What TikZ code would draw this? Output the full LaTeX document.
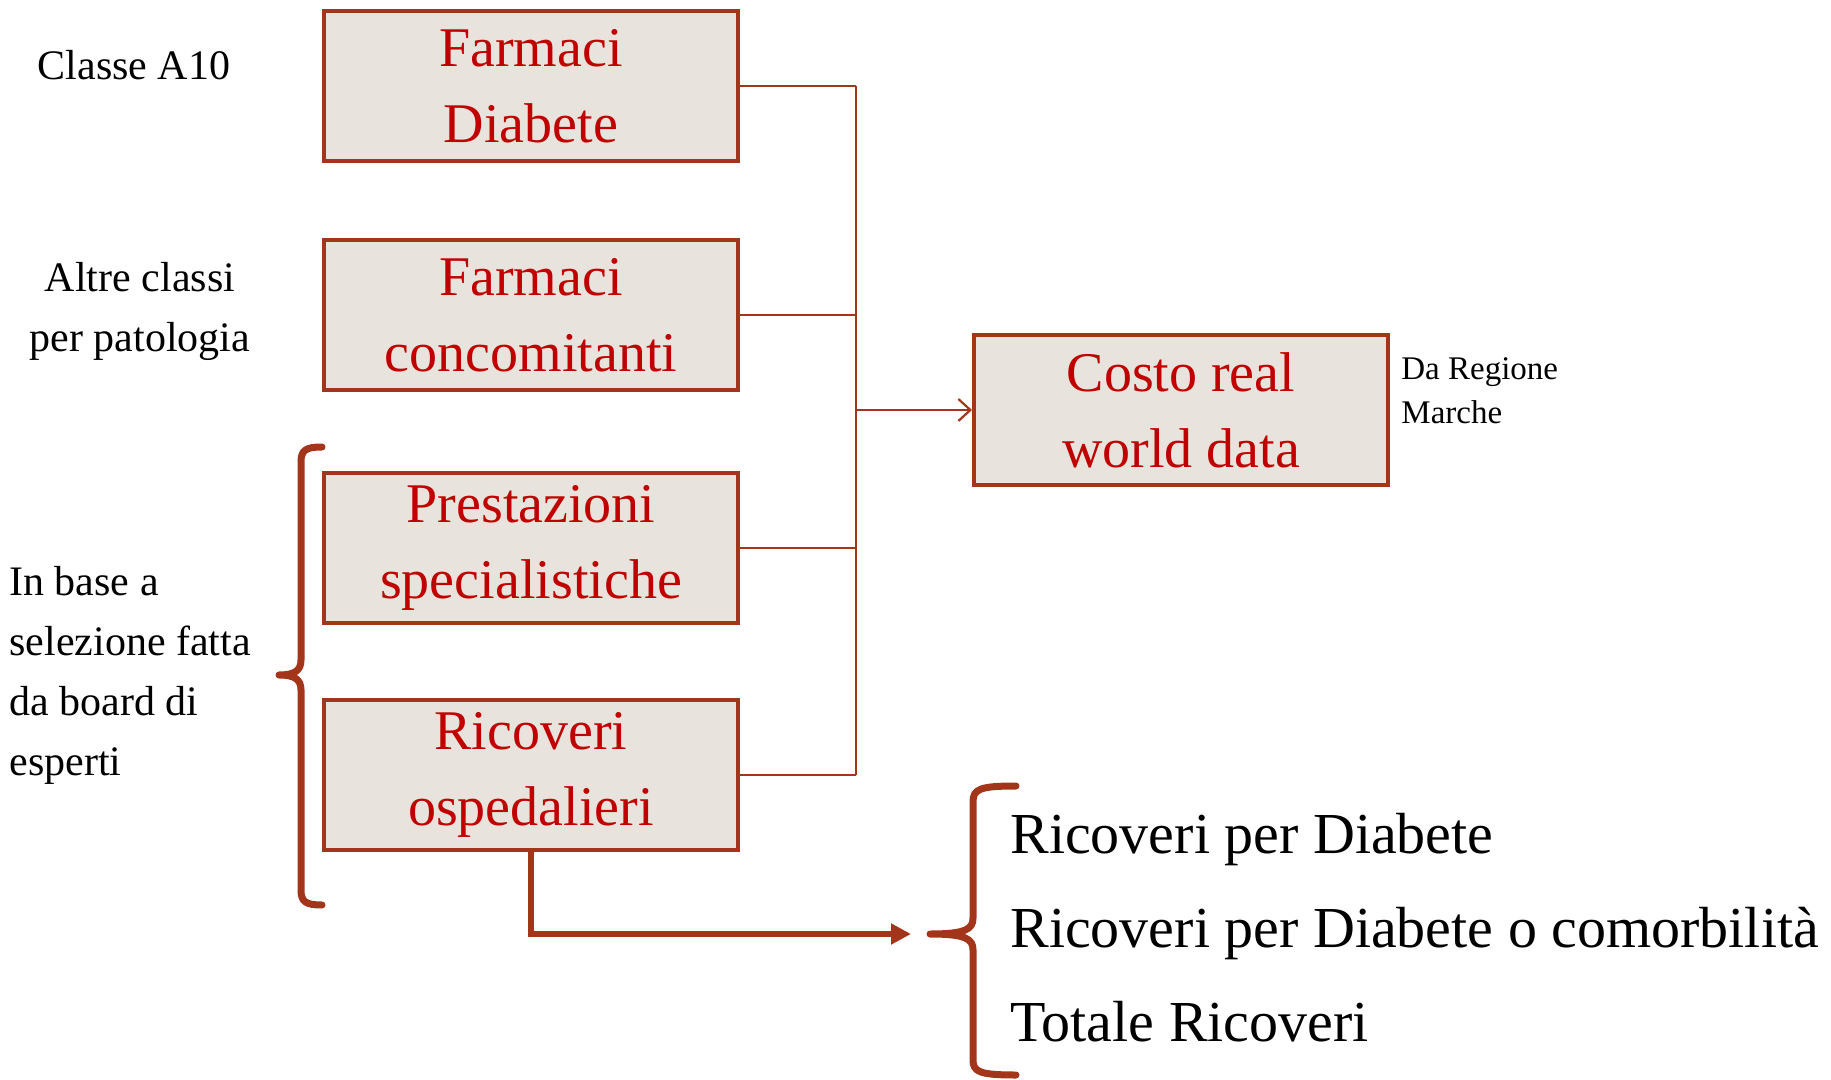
\documentclass[tikz,border=0pt]{standalone}
\usepackage{fontspec}
\setmainfont{Liberation Serif}
\usetikzlibrary{positioning,arrows.meta}
\definecolor{boxfill}{HTML}{E8E3DC}
\definecolor{rust}{HTML}{A3361A}
\definecolor{boxred}{HTML}{C00000}

\begin{document}
\begin{tikzpicture}[x=0.5pt,y=-0.5pt]
            \tikzset{
                voce/.style={draw=rust, line width=2pt, fill=boxfill, text=boxred,
                    minimum width=207pt, minimum height=75pt, inner sep=0pt,
                    align=center, font=\fontsize{28}{38}\selectfont},
                nota/.style={align=center, inner sep=0pt, font=\fontsize{21}{30}\selectfont},
                conn/.style={draw=rust, line width=1.1pt},
                graffa/.style={draw=rust, line width=3.5pt, line cap=round, line join=round},}
            \useasboundingbox (0,0) rectangle (1831,1080);
            % boxes
            \node[voce] (fd) at (531,86) {Farmaci\\Diabete};
            \node[voce] (fc) at (531,315) {Farmaci\\concomitanti};
            \node[voce] (ps) at (531,548) {Prestazioni\\specialistiche};
            \node[voce] (ro) at (531,775) {Ricoveri\\ospedalieri};
            \node[voce] (costo) at (1181,410) {Costo real\\world data};
            % notes
            \node[nota] (a10) at (134,65) {Classe A10};
            \node[nota] (altre) at (140,311) {Altre classi\\per patologia};
            \node[nota, align=left, anchor=west] (board) at (9,675) {In base a\\selezione fatta\\da board di\\esperti};
            \node[align=left, anchor=west, inner sep=0pt, font=\fontsize{16.5}{22}\selectfont] (regione) at (1401,391) {Da Regione\\Marche};
            \node[align=left, anchor=west, inner sep=0pt, font=\fontsize{29}{47}\selectfont] (lista) at (1010,928)
                {Ricoveri per Diabete\\Ricoveri per Diabete o comorbilità\\Totale Ricoveri};
            % connectors
            \coordinate (bus) at (856,0);
            \foreach \n in {fd,fc,ps,ro}
                \draw[conn] (\n.east) -- (\n.east -| bus);
            \draw[conn] (fd.east -| bus) -- (ro.east -| bus);
            \draw[conn,-{Straight Barb[length=6pt,width=11pt]}] (costo.west -| bus) -- (costo.west);
            \coordinate (punta) at (911,934);
            \draw[rust, line width=3pt, -{Triangle[length=10pt,width=10pt]}] (ro.south) |- (punta);
            % braces
            \draw[graffa] (322,447) .. controls (306,447) and (301,450) .. (301,462) -- (301,660)
                .. controls (301,671) and (294,675) .. (279,675)
                .. controls (294,675) and (301,679) .. (301,690) -- (301,890)
                .. controls (301,902) and (306,905) .. (322,905);
            \draw[graffa] (1016,786) .. controls (980,786) and (973,789) .. (973,802) -- (973,918)
                .. controls (973,929) and (966,934) .. (930,934)
                .. controls (966,934) and (973,939) .. (973,950) -- (973,1060)
                .. controls (973,1072) and (980,1075) .. (1016,1075);
\end{tikzpicture}
\end{document}
